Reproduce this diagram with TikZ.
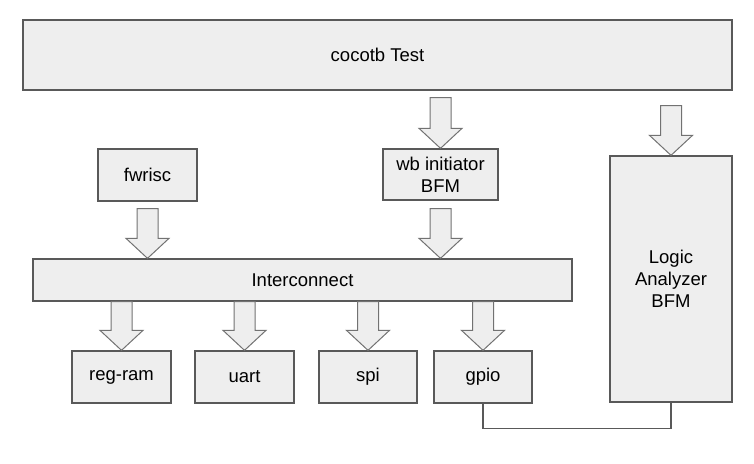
\documentclass[tikz,border=0pt]{standalone}
\usepackage{fontspec}
\setmainfont{Liberation Sans}
\usetikzlibrary{calc}
\definecolor{boxfill}{HTML}{EEEEEE}
\definecolor{boxline}{HTML}{595959}
\tikzset{
  box/.style={draw=boxline, fill=boxfill, line width=1.3pt, inner sep=0pt, align=center,
    font=\fontsize{18.5}{22}\selectfont, text=black},
  barrow/.style={draw=boxline!85, fill=boxfill, line width=1pt, line join=miter},
  link/.style={draw=boxline, line width=1.1pt}
}
% #1 node giving x, #2 source node, #3 target node, #4 gap below source
\newcommand\blockarrow[4]{%
  \draw[barrow] let \p1=(#1.center |- #2.south), \p2=(#1.center |- #3.north) in
    (\x1-10.5pt,\y1-#4) -- (\x1+10.5pt,\y1-#4) -- (\x1+10.5pt,\y2+20pt) --
    (\x1+21.5pt,\y2+20pt) -- (\x1,\y2) -- (\x1-21.5pt,\y2+20pt) --
    (\x1-10.5pt,\y2+20pt) -- cycle;}
\begin{document}
\begin{tikzpicture}[x=1pt,y=-1pt]
\useasboundingbox (0,0) rectangle (754,463);
\node[box, minimum width=709pt, minimum height=70pt] (test) at (377.5,55) {cocotb Test};
\node[box, minimum width=99pt, minimum height=52pt] (fwrisc) at (147.5,175) {fwrisc};
\node[box, minimum width=115pt, minimum height=51pt] (wb) at (440.5,174.5) {wb initiator\\BFM};
\node[box, minimum width=122pt, minimum height=246pt] (la) at (671,279) {Logic\\Analyzer\\BFM};
\node[box, minimum width=539pt, minimum height=42pt] (ic) at (302.5,280) {Interconnect};
\node[box, minimum width=99pt, minimum height=52pt] (regram) at (121.5,377) {reg-ram};
\node[box, minimum width=99pt, minimum height=52pt] (uart) at (244.5,377) {uart};
\node[box, minimum width=98pt, minimum height=52pt] (spi) at (368,377) {spi};
\node[box, minimum width=98pt, minimum height=52pt] (gpio) at (483,377) {gpio};

\blockarrow{wb}{test}{wb}{7pt}
\blockarrow{la}{test}{la}{15pt}
\blockarrow{fwrisc}{fwrisc}{ic}{7pt}
\blockarrow{wb}{wb}{ic}{8pt}
\blockarrow{regram}{ic}{regram}{0pt}
\blockarrow{uart}{ic}{uart}{0pt}
\blockarrow{spi}{ic}{spi}{0pt}
\blockarrow{gpio}{ic}{gpio}{0pt}

\draw[link] (gpio.south) -- ++(0,25) -| (la.south);
\end{tikzpicture}
\end{document}
